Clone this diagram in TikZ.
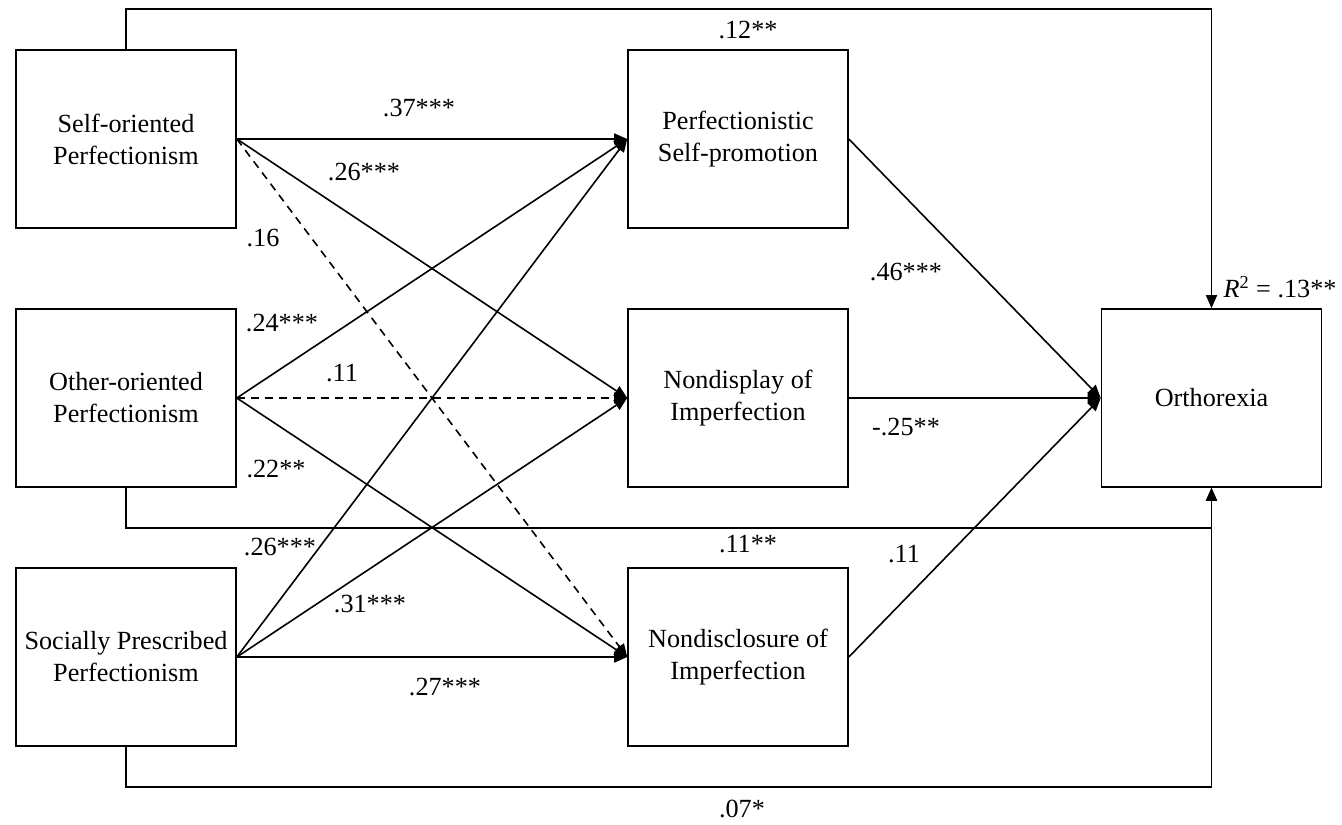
\documentclass[tikz,border=0pt]{standalone}
\usepackage{fontspec}
\setmainfont{Liberation Serif}
\usepackage{tikz}
\usetikzlibrary{arrows.meta,positioning}

\begin{document}
\begin{tikzpicture}[x=0.5pt, y=-0.5pt, node distance=129.5pt, line width=0.8pt,
    >={Triangle[length=6.5pt,width=5.5pt]},
    box/.style={draw, minimum width=110pt, minimum height=89pt, inner sep=0pt,
      align=center, font=\fontsize{13.1}{16}\selectfont},
    coef/.style={inner sep=0pt, font=\fontsize{13.1}{16}\selectfont},
    ns/.style={dash pattern=on 4pt off 3pt}]
    \useasboundingbox (0,0) rectangle (1342,824);

    \node[box] (SOP) at (126,139) {Self-oriented\\Perfectionism};
    \node[box] (OOP) [below of=SOP] {Other-oriented\\Perfectionism};
    \node[box] (SPP) [below of=OOP] {Socially Prescribed\\Perfectionism};
    \node[box] (PSP) [right of=SOP, node distance=306pt] {Perfectionistic\\Self-promotion};
    \node[box] (NDP) [below of=PSP] {Nondisplay of\\Imperfection};
    \node[box] (NCI) [below of=NDP] {Nondisclosure of\\Imperfection};
    \node[box] (ORX) [right of=NDP, node distance=236.75pt] {Orthorexia};

    \path[->] (SOP.east) edge (PSP.west)
              (SOP.east) edge (NDP.west)
              (SOP.east) edge [ns] (NCI.west)
              (OOP.east) edge (PSP.west)
              (OOP.east) edge [ns] (NDP.west)
              (OOP.east) edge (NCI.west)
              (SPP.east) edge (PSP.west)
              (SPP.east) edge (NDP.west)
              (SPP.east) edge (NCI.west)
              (PSP.east) edge (ORX.west)
              (NDP.east) edge (ORX.west)
              (NCI.east) edge (ORX.west);

    % direct paths to the outcome
    \draw[->] (SOP.north) -- ++(0,-40) -| (ORX.north);
    \draw[->] (OOP.south) -- ++(0,40) -| (ORX.south);
    \draw[->] (SPP.south) -- ++(0,40) -| (ORX.south);

    \node[coef] (c-so-psp) at (419,108) {.37***};
    \node[coef] (c-so-nd)  at (364,172) {.26***};
    \node[coef] (c-so-nc)  at (263,238) {.16};
    \node[coef] (c-oo-psp) at (282,323) {.24***};
    \node[coef] (c-oo-nd)  at (342,373) {.11};
    \node[coef] (c-oo-nc)  at (276,469) {.22**};
    \node[coef] (c-sp-psp) at (280,547) {.26***};
    \node[coef] (c-sp-nd)  at (370,604) {.31***};
    \node[coef] (c-sp-nc)  at (445,687) {.27***};
    \node[coef] (c-psp-or) at (906,272) {.46***};
    \node[coef] (c-nd-or)  at (906,427) {-.25**};
    \node[coef] (c-nc-or)  at (904,554) {.11};
    \node[coef] (c-so-or)  at (748,30)  {.12**};
    \node[coef] (c-oo-or)  at (748,544) {.11**};
    \node[coef] (c-sp-or)  at (742,809) {.07*};
    \node[coef] (rsq) at (1280,287) {\textit{R}\textsuperscript{2} = .13**};
\end{tikzpicture}
\end{document}
